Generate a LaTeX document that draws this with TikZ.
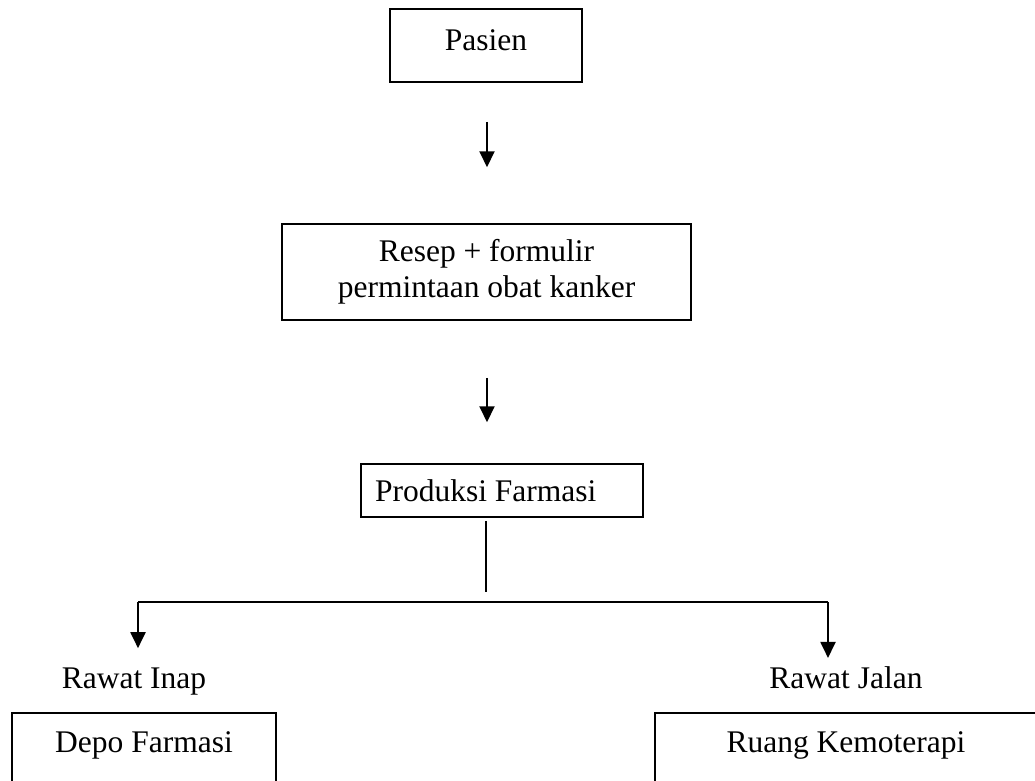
\documentclass[tikz,border=0pt]{standalone}
\usepackage{fontspec}
\setmainfont{Liberation Serif}
\usetikzlibrary{arrows.meta}

\tikzset{
  box/.style={draw, line width=1.5pt, inner sep=0pt, align=center,
    font=\fontsize{31.5}{36}\selectfont},
  lbl/.style={inner sep=0pt, font=\fontsize{31.5}{36}\selectfont},
  arr/.style={line width=2pt, -{Triangle[width=15pt,length=16pt]}},
  wire/.style={line width=1.5pt},
}

\begin{document}
\begin{tikzpicture}[x=1pt, y=-1pt]
  \useasboundingbox (0,0) rectangle (1035,780);
  \clip (0,0) rectangle (1035,780);

  % main chain
  \node[box, minimum width=192pt, minimum height=73pt,
        text height=21.5pt, text depth=12.5pt] (pasien) at (486,45.5) {Pasien};
  \node[box, minimum width=409pt, minimum height=96pt] (resep) at (486.5,272)
        {Resep + formulir\\permintaan obat kanker};
  \node[box, minimum height=53pt, text width=254pt, inner xsep=14pt,
        align=flush left, text height=22pt, text depth=0pt] (prod) at (502,490.5)
        {Produksi Farmasi};

  \draw[arr, shorten <=39pt, shorten >=56pt] (pasien.south -| 487,0) -- (resep.north -| 487,0);
  \draw[arr, shorten <=57pt, shorten >=41pt] (resep.south -| 487,0) -- (prod.north -| 487,0);

  % branching
  \coordinate (stem) at (486,592);
  \coordinate (lj) at (138,602);
  \coordinate (rj) at (828,602);
  \draw[wire, shorten <=3pt] (prod.south -| stem) -- (stem);

  % branch labels and destination boxes
  \node[lbl, anchor=base] (inap) at (134,688) {Rawat Inap};
  \node[lbl, anchor=base] (jalan) at (846,688) {Rawat Jalan};
  \node[box, anchor=north, minimum width=264pt, minimum height=110pt,
        text height=21.5pt, text depth=51.5pt] (depo) at (144,712) {Depo Farmasi};
  \node[box, anchor=north, minimum width=382pt, minimum height=110pt,
        text height=21.5pt, text depth=51.5pt] (ruang) at (846,712) {Ruang Kemoterapi};

  \draw[wire] (lj) -- (rj);
  \draw[arr, shorten >=19pt] (lj) -- (lj |- inap.north);
  \draw[arr, shorten >=8pt] (rj) -- (rj |- jalan.north);
\end{tikzpicture}
\end{document}
